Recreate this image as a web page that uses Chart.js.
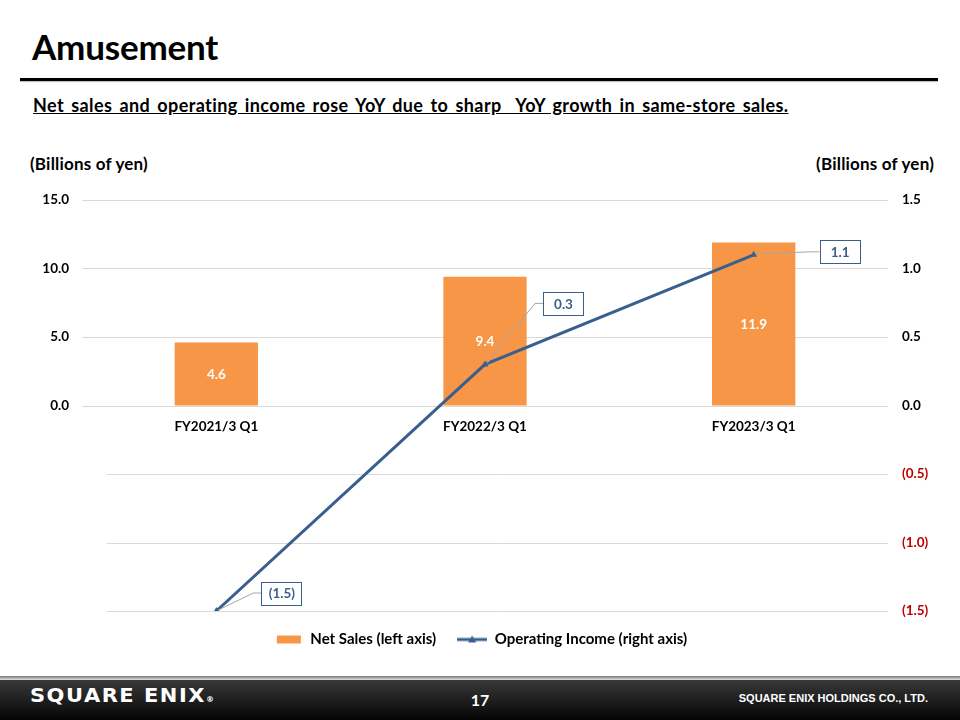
<!DOCTYPE html>
<html>
<head>
<meta charset="utf-8">
<script src="https://cdn.jsdelivr.net/npm/chart.js@4/dist/chart.umd.min.js"></script>
<style>
  body { margin:0; width:960px; height:720px; background:#fff; position:relative; overflow:hidden; font-family:Lato, "Open Sans", sans-serif; }
  .abs { position:absolute; }
  #titulo { left:32px; top:25px; font-size:35px; font-weight:700; color:#000; letter-spacing:-0.2px; }
  #regla { left:20px; top:78px; width:918px; height:3px; background:#000; box-shadow:0 1px 1px #bbb; }
  #sub { left:33px; top:94px; font-size:18px; font-weight:700; color:#000; text-decoration:underline; white-space:pre; letter-spacing:0.4px; word-spacing:2.4px; }
  .unidad { top:153px; font-size:17px; font-weight:700; color:#000; letter-spacing:0.2px; }
  #lienzo { left:0; top:150px; width:960px; height:510px; }
  #pie-linea { left:0; top:676px; width:960px; height:4px; background:linear-gradient(#777,#e0e0e0); }
  #pie { left:0; top:680px; width:960px; height:40px; background:linear-gradient(#383838,#050505); color:#fff; }
  #logo { left:30px; top:4px; font-family:"DejaVu Sans", sans-serif; font-size:21px; font-weight:700; letter-spacing:1.5px; transform:scaleY(0.9); }
  #logo small { font-size:8px; letter-spacing:0; }
  #pagina { left:0; width:960px; top:10px; text-align:center; font-size:16px; font-weight:700; }
  #empresa { right:32px; top:12px; font-family:"Liberation Sans", sans-serif; font-size:11px; font-weight:700; }
</style>
</head>
<body>
<div id="titulo" class="abs">Amusement</div>
<div id="regla" class="abs"></div>
<div id="sub" class="abs">Net sales and operating income rose YoY due to sharp  YoY growth in same-store sales.</div>
<div class="abs unidad" style="left:30px">(Billions of yen)</div>
<div class="abs unidad" style="right:26px">(Billions of yen)</div>
<div id="lienzo" class="abs"><canvas id="chart-amusement"></canvas></div>
<div id="pie-linea" class="abs"></div>
<div id="pie" class="abs">
  <div id="logo" class="abs">SQUARE ENIX<small>®</small></div>
  <div id="pagina" class="abs">17</div>
  <div id="empresa" class="abs">SQUARE ENIX HOLDINGS CO., LTD.</div>
</div>
<script>
// ─── Datos ───────────────────────────────────────────
const periodos = ['FY2021/3 Q1', 'FY2022/3 Q1', 'FY2023/3 Q1'];
const ventasNetas = [4.6, 9.4, 11.9];        // eje izquierdo
const resultadoOperativo = [-1.5, 0.3, 1.1]; // eje derecho

const NARANJA = '#F79646';
const AZUL = '#3A5F8E';
const fuente = 'Lato, "Open Sans", sans-serif';

const fmtIzq = v => v >= 0 ? v.toFixed(1) : '';
const fmtDer = v => v < 0 ? '(' + Math.abs(v).toFixed(1) + ')' : v.toFixed(1);

// desplazamiento de las cajas de etiqueta de la línea (px)
const cajaOffset = [[65, -18], [78, -61], [86, -3]];

// iconos de leyenda
function icono(dibujar) {
  const c = document.createElement('canvas');
  c.width = 30; c.height = 12;
  dibujar(c.getContext('2d'));
  return c;
}
const iconoBarra = icono(g => { g.fillStyle = NARANJA; g.fillRect(4, 2, 24, 8); });
const iconoLinea = icono(g => {
  g.strokeStyle = AZUL; g.lineWidth = 3;
  g.beginPath(); g.moveTo(0, 6); g.lineTo(30, 6); g.stroke();
  g.fillStyle = AZUL; g.beginPath(); g.moveTo(15, 2); g.lineTo(19, 9); g.lineTo(11, 9); g.closePath(); g.fill();
});

// rejilla: líneas negativas empiezan más a la derecha
const rejilla = {
  id: 'rejilla',
  beforeDatasetsDraw(chart) {
    const { ctx, chartArea } = chart;
    const s = chart.scales.y1;
    ctx.save();
    ctx.strokeStyle = '#d9d9d9';
    ctx.lineWidth = 1;
    s.ticks.forEach(t => {
      const y = Math.round(s.getPixelForValue(t.value)) + 0.5;
      const x0 = t.value < -0.01 ? chartArea.left + 25 : chartArea.left;
      ctx.beginPath(); ctx.moveTo(x0, y); ctx.lineTo(chartArea.right, y); ctx.stroke();
    });
    ctx.restore();
  }
};

// etiquetas de datos
const etiquetas = {
  id: 'etiquetas',
  afterDatasetsDraw(chart) {
    const { ctx } = chart;
    ctx.save();
    ctx.textAlign = 'center';
    ctx.textBaseline = 'middle';
    ctx.font = 'bold 13.5px ' + fuente;

    chart.getDatasetMeta(0).data.forEach((b, i) => {
      ctx.fillStyle = '#fff';
      ctx.fillText(ventasNetas[i].toFixed(1), b.x, (b.y + b.base) / 2 + 1);
    });

    chart.getDatasetMeta(1).data.forEach((p, i) => {
      const [dx, dy] = cajaOffset[i];
      const cx = p.x + dx, cy = p.y + dy, w = 40, h = 23;
      const izq = cx - w / 2;
      ctx.strokeStyle = '#a6a6a6';
      ctx.lineWidth = 1;
      ctx.beginPath();
      ctx.moveTo(p.x + 2, p.y - 1);
      ctx.lineTo(izq - 8, cy);
      ctx.lineTo(izq, cy);
      ctx.stroke();
      ctx.fillStyle = '#fff';
      ctx.fillRect(izq, cy - h / 2, w, h);
      ctx.strokeStyle = AZUL;
      ctx.strokeRect(Math.round(izq) + 0.5, Math.round(cy - h / 2) + 0.5, w, h);
      ctx.fillStyle = AZUL;
      ctx.fillText(fmtDer(resultadoOperativo[i]), cx + 0.5, cy + 1);
    });
    ctx.restore();
  }
};

new Chart(document.getElementById('chart-amusement').getContext('2d'), {
  type: 'bar',
  data: {
    labels: periodos,
    datasets: [
      { label: 'Net Sales (left axis)', data: ventasNetas, backgroundColor: NARANJA, yAxisID: 'y',
        barPercentage: 0.31, categoryPercentage: 1, order: 2 },
      { type: 'line', label: 'Operating Income (right axis)', data: resultadoOperativo, yAxisID: 'y1',
        borderColor: AZUL, backgroundColor: AZUL, borderWidth: 3, tension: 0,
        pointStyle: 'triangle', pointRadius: 4, pointBackgroundColor: AZUL, pointBorderWidth: 0, order: 1 }
    ]
  },
  options: {
    responsive: true,
    maintainAspectRatio: false,
    animation: false,
    layout: { padding: { top: 50, bottom: 3, left: 0, right: 0 } },
    plugins: {
      tooltip: { enabled: false },
      legend: {
        position: 'bottom',
        labels: {
          usePointStyle: true,
          pointStyleWidth: 30,
          color: '#000',
          font: { family: fuente, size: 15, weight: 'bold' },
          padding: 21,
          generateLabels: chart => chart.data.datasets.map((d, i) => ({
            text: d.label, datasetIndex: i, pointStyle: i === 0 ? iconoBarra : iconoLinea,
            fillStyle: 'transparent', strokeStyle: 'transparent', lineWidth: 0, fontColor: '#000'
          }))
        }
      }
    },
    scales: {
      x: {
        position: { y: 0 },
        grid: { display: false, drawTicks: false },
        border: { display: false },
        ticks: { color: '#000', font: { family: fuente, size: 13.5, weight: 'bold' }, padding: 13 }
      },
      y: {
        position: 'left',
        min: -15, max: 15,
        grid: { display: false, drawTicks: false },
        border: { display: false },
        ticks: { stepSize: 5, padding: 13, color: '#000', font: { family: fuente, size: 13.5, weight: 'bold' }, callback: fmtIzq },
        afterFit: s => { s.width = 82; }
      },
      y1: {
        position: 'right',
        min: -1.5, max: 1.5,
        grid: { display: false, drawTicks: false },
        border: { display: false },
        ticks: {
          stepSize: 0.5, padding: 14,
          font: { family: fuente, size: 13.5, weight: 'bold' },
          color: c => c.tick.value < -0.01 ? '#C00000' : '#000',
          callback: fmtDer
        },
        afterFit: s => { s.width = 72; }
      }
    }
  },
  plugins: [rejilla, etiquetas]
});
</script>
</body>
</html>
